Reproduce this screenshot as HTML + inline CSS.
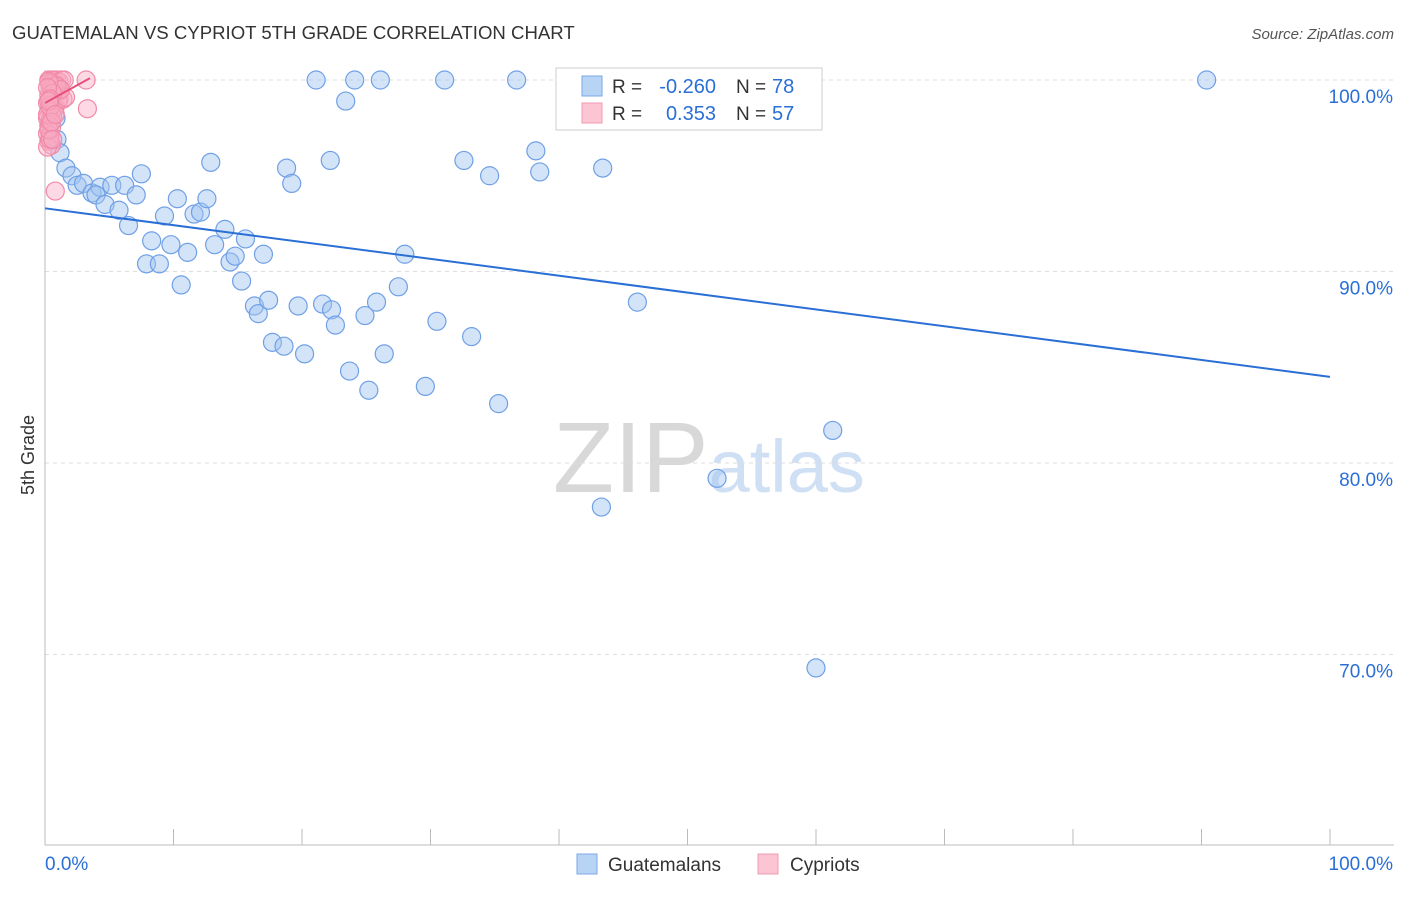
<!DOCTYPE html>
<html><head><meta charset="utf-8"><style>
body{margin:0;background:#fff;font-family:"Liberation Sans",sans-serif}
svg text{font-family:"Liberation Sans",sans-serif}
</style></head><body>
<svg width="1406" height="892" xmlns="http://www.w3.org/2000/svg">
<text x="12" y="39" font-size="18.6" fill="#333">GUATEMALAN VS CYPRIOT 5TH GRADE CORRELATION CHART</text>
<text x="1394" y="39" font-size="15" fill="#555" font-style="italic" text-anchor="end">Source: ZipAtlas.com</text>
<text x="34" y="455" font-size="18" fill="#333" transform="rotate(-90 34 455)" text-anchor="middle">5th Grade</text>
<text x="553" y="492" font-size="100" fill="#d8d8d8" font-family="Liberation Serif">ZIP<tspan fill="#cfe0f5" font-family="Liberation Sans" font-size="74">atlas</tspan></text>
<g id="grid"></g><g id="axes"></g><g id="pts"></g>
<g>
<rect x="556" y="68" width="266" height="62" fill="#fff" stroke="#ccc"/>
<rect x="582" y="76" width="20" height="20" fill="#b8d4f5" stroke="#7aa9e6"/>
<rect x="582" y="103" width="20" height="20" fill="#fcc5d4" stroke="#f09ab2"/>
<text x="612" y="93" font-size="19" fill="#333">R =</text>
<text x="716" y="93" font-size="20" fill="#2a6fd6" text-anchor="end">-0.260</text>
<text x="736" y="93" font-size="19" fill="#333">N =</text>
<text x="772" y="93" font-size="20" fill="#2a6fd6">78</text>
<text x="612" y="120" font-size="19" fill="#333">R =</text>
<text x="716" y="120" font-size="20" fill="#2a6fd6" text-anchor="end">0.353</text>
<text x="736" y="120" font-size="19" fill="#333">N =</text>
<text x="772" y="120" font-size="20" fill="#2a6fd6">57</text>
</g>
<g>
<rect x="577" y="854" width="20" height="20" fill="#b8d4f5" stroke="#7aa9e6"/>
<text x="608" y="871" font-size="19" fill="#333">Guatemalans</text>
<rect x="758" y="854" width="20" height="20" fill="#fcc5d4" stroke="#f09ab2"/>
<text x="790" y="871" font-size="19" fill="#333">Cypriots</text>
</g>
</svg>
<script>
const blueX=[21.1,24.1,26.1,31.1,36.7,58.5,90.4,23.4,0.86,0.93,1.17,1.63,2.1,2.5,3.0,3.66,4.28,3.97,4.67,5.2,5.76,6.2,6.5,7.1,7.5,8.3,7.9,8.9,9.3,9.8,10.3,10.6,11.1,11.6,12.1,12.6,12.9,13.2,14.0,14.4,14.8,15.3,15.6,16.3,16.6,17.0,17.4,17.7,18.6,18.8,19.2,19.7,20.2,21.6,22.2,22.3,22.6,23.7,24.9,25.2,25.8,26.4,27.5,28.0,29.6,30.5,32.6,33.2,34.6,35.3,38.2,38.5,43.3,43.4,46.1,52.3,61.3,60.0];
const blueY=[100,100,100,100,100,100,100,98.9,98.0,96.9,96.2,95.4,95.0,94.5,94.6,94.1,94.4,94.0,93.5,94.5,93.2,94.5,92.4,94.0,95.1,91.6,90.4,90.4,92.9,91.4,93.8,89.3,91.0,93.0,93.1,93.8,95.7,91.4,92.2,90.5,90.8,89.5,91.7,88.2,87.8,90.9,88.5,86.3,86.1,95.4,94.6,88.2,85.7,88.3,95.8,88.0,87.2,84.8,87.7,83.8,88.4,85.7,89.2,90.9,84.0,87.4,95.8,86.6,95.0,83.1,96.3,95.2,77.7,95.4,88.4,79.2,81.7,69.3];
const pinkX=[0.3,0.5,0.7,0.9,1.1,1.3,1.5,0.4,0.6,0.8,1.0,1.2,0.3,0.5,0.7,0.9,1.1,0.2,0.4,0.6,0.8,1.0,0.3,0.5,0.7,0.2,0.4,0.6,0.3,0.5,0.2,0.4,0.3,0.5,0.2,0.4,0.3,0.2,0.4,0.6,1.4,1.6,3.2,3.3,0.8,0.5,0.7,0.9,1.2,0.3,0.6,0.2,0.4,0.3,0.5,0.6,0.8];
const pinkY=[100,100,100,100,99.9,100,100,99.6,99.6,99.5,99.6,99.5,99.2,99.2,99.1,99.3,99.0,98.8,98.7,98.8,98.6,98.9,98.4,98.3,98.5,98.0,97.9,98.1,97.6,97.5,97.2,97.1,96.8,96.6,96.5,96.9,97.4,98.2,98.6,99.4,99.0,99.1,100,98.5,94.2,99.8,99.7,99.7,99.5,99.9,99.3,99.6,99.0,98.9,97.8,96.9,98.2];
const yTicks=[100,90,80,70];
const yTickLabels=["100.0%","90.0%","80.0%","70.0%"];
const blueLine=[93.3,84.5], pinkLine=[98.8,100.1,3.5];
const sx=v=>45+v*12.85, sy=v=>80+(100-v)*19.15;
const NS="http://www.w3.org/2000/svg";
function mk(t,a,p){const e=document.createElementNS(NS,t);for(const k in a)e.setAttribute(k,a[k]);p.appendChild(e);return e;}
const grid=document.getElementById('grid'),axes=document.getElementById('axes'),pts=document.getElementById('pts');
yTicks.forEach((t,i)=>{const l=mk('line',{x1:45,x2:1394,y1:sy(t),y2:sy(t),stroke:'#ddd','stroke-dasharray':'4,4'},grid);


const tx=mk('text',{x:1393,y:sy(t)+23,'font-size':19,fill:'#2a6fd6','text-anchor':'end'},axes);tx.textContent=yTickLabels[i];

});
const xa=mk('line',{x1:45,x2:1394,y1:845,y2:845,stroke:'#bbb'},axes);


const ya=mk('line',{x1:45,x2:45,y1:70,y2:845,stroke:'#bbb'},axes);


for(let i=1;i<=10;i++){const t=mk('line',{x1:sx(i*10),x2:sx(i*10),y1:829,y2:845,stroke:'#bbb'},axes);

}
const x0=mk('text',{x:45,y:870,'font-size':19,fill:'#2a6fd6'},axes);x0.textContent='0.0%';


const x1=mk('text',{x:1393,y:870,'font-size':19,fill:'#2a6fd6','text-anchor':'end'},axes);x1.textContent='100.0%';


blueX.forEach((x,i)=>{const c=mk('circle',{cx:sx(x),cy:sy(blueY[i]),r:9,fill:'rgba(160,196,240,0.45)',stroke:'#6fa0e6','stroke-width':1.2},pts);

});
pinkX.forEach((x,i)=>{const c=mk('circle',{cx:sx(x),cy:sy(pinkY[i]),r:9,fill:'rgba(248,170,195,0.45)',stroke:'#f08aa8','stroke-width':1.2},pts);

});
const bl=mk('line',{x1:sx(0),y1:sy(blueLine[0]),x2:sx(100),y2:sy(blueLine[1]),stroke:'#2a6fd6','stroke-width':2},pts);


const pl=mk('line',{x1:sx(0),y1:sy(pinkLine[0]),x2:sx(pinkLine[2]),y2:sy(pinkLine[1]),stroke:'#e8507a','stroke-width':2},pts);


</script>
</body></html>
